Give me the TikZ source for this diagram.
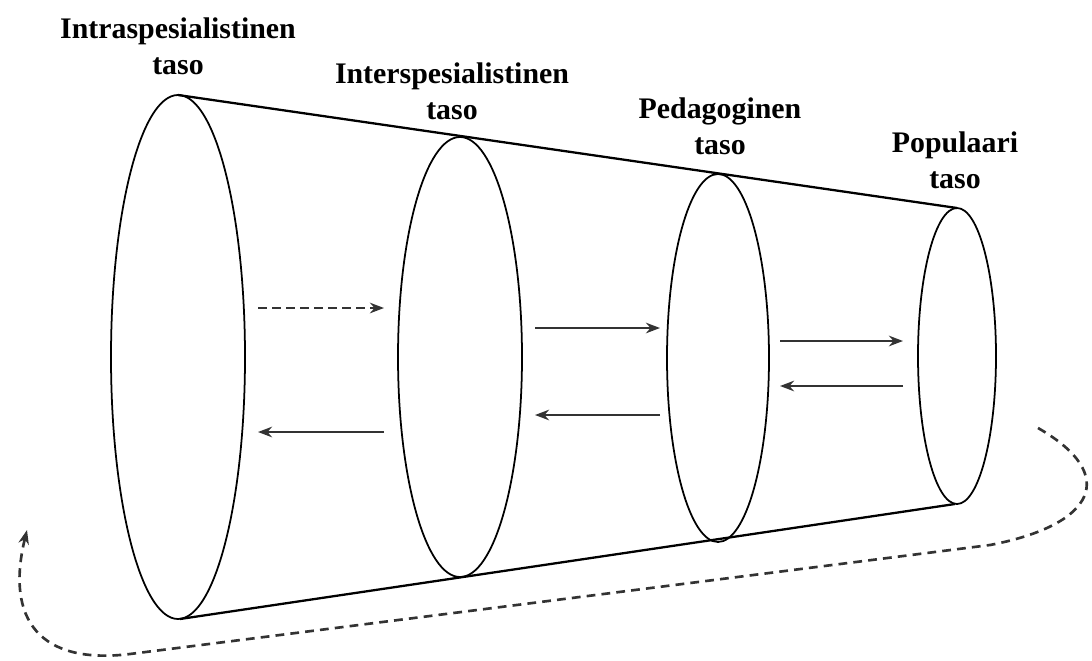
\documentclass[tikz,border=0pt]{standalone}
\usepackage{fontspec}
\setmainfont{Liberation Serif}
\usetikzlibrary{arrows.meta}
\tikzset{
    level/.style={font=\bfseries\fontsize{17}{20.5}\selectfont, align=center, inner sep=0pt},
    flow/.style={line width=1.6pt, black!80, -{Stealth[length=8pt, width=6pt]}},
}
\begin{document}
\begin{tikzpicture}[x=0.02cm, y=-0.02cm]
    \useasboundingbox (0,0) rectangle (1092,660);
    % levels of the cone
    \draw[line width=1pt] (178,357) ellipse (67 and 262);
    \draw[line width=1pt] (460,357) ellipse (62 and 220);
    \draw[line width=1pt] (718,358) ellipse (51 and 184);
    \draw[line width=1pt] (957,356) ellipse (39 and 148);
    \coordinate (t1) at (178,95);  \coordinate (b1) at (180,619);
    \coordinate (t4) at (957,208); \coordinate (b4) at (955,504);
    \draw[line width=1.3pt] (t1) -- (t4);
    \draw[line width=1.3pt] (b1) -- (b4);
    % labels
    \node[level] (intra) at (178,46) {Intraspesialistinen\\taso};
    \node[level] (inter) at (452,91) {Interspesialistinen\\taso};
    \node[level] (peda)  at (720,126) {Pedagoginen\\taso};
    \node[level] (popu)  at (955,160) {Populaari\\taso};
    % flows between levels
    \coordinate (a1) at (258,308); \coordinate (a2) at (384,308);
    \coordinate (a3) at (384,432); \coordinate (a4) at (258,432);
    \coordinate (a5) at (535,328); \coordinate (a6) at (660,328);
    \coordinate (a7) at (660,415); \coordinate (a8) at (535,415);
    \coordinate (a9) at (780,341); \coordinate (a10) at (903,341);
    \coordinate (a11) at (903,386); \coordinate (a12) at (780,386);
    \draw[flow, dash pattern=on 5pt off 3pt] (a1) -- (a2);
    \draw[flow] (a3) -- (a4);
    \draw[flow] (a5) -- (a6);
    \draw[flow] (a7) -- (a8);
    \draw[flow] (a9) -- (a10);
    \draw[flow] (a11) -- (a12);
    % return path
    \coordinate (r1) at (1038,428); \coordinate (r2) at (27,530);
    \draw[line width=1.5pt, black!80, dash pattern=on 5pt off 3.5pt, -{Stealth[length=8pt, width=6pt]}]
        (r1) .. controls (1120,475) and (1095,525) .. (990,545)
        -- (130,654) .. controls (40,665) and (5,620) .. (r2);
\end{tikzpicture}
\end{document}
